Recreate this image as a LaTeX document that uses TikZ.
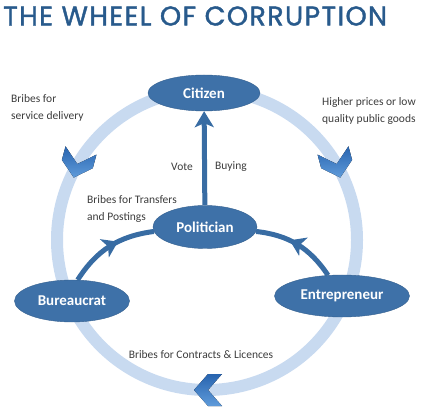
\documentclass[tikz,border=0pt]{standalone}
\usepackage{fontspec}
\setmainfont{Carlito}
\newfontfamily\titlefont[LetterSpace=5,FakeBold=1.5]{Poppins}
\usetikzlibrary{arrows.meta}
\usetikzlibrary{calc}
\usetikzlibrary{shapes.geometric}
\usetikzlibrary{decorations.markings}
\definecolor{ringblue}{RGB}{200,218,240}
\definecolor{nodeblue}{RGB}{62,113,168}
\definecolor{spokeblue}{RGB}{56,108,163}
\definecolor{chevblue}{RGB}{40,100,175}
\definecolor{chevlight}{RGB}{95,155,218}
\definecolor{titleblue}{RGB}{40,90,140}
\definecolor{labelgray}{RGB}{60,60,60}
\tikzset{
    actor/.style={ellipse,fill=nodeblue,draw=nodeblue!85!black,text=white,
        font=\fontsize{15}{17}\selectfont\bfseries},
    spoke/.style={line width=5pt,color=spokeblue},
    tipto/.style={-{Stealth[length=16pt,width=19pt,inset=4pt]}},
    midarrow/.style={postaction={decorate,decoration={markings,
        mark=at position 0.6 with {\arrow{Stealth[length=15pt,width=20pt,inset=4pt]}}}}},
    note/.style={text=labelgray,font=\fontsize{11.5}{17}\selectfont,align=left,inner sep=0pt},
    chevron/.pic={
        \fill[left color=chevblue,right color=chevlight,shading angle=0]
            (13,0) -- (-1,16) -- (-15,16) -- (-1,0) -- (-15,-16) -- (-1,-16) -- cycle;
    },
}

\begin{document}
\begin{tikzpicture}[x=1pt,y=1pt]
\useasboundingbox (0,0) rectangle (422,412);
% title
\node[anchor=west,inner sep=0pt,text=titleblue,font=\titlefont\fontsize{27}{30}\selectfont] (title) at (3,396) {THE WHEEL OF CORRUPTION};
% the wheel
\coordinate (hub) at (207,172);
\draw[ringblue,line width=12pt] (hub) circle (150);
\pic[rotate=255] at ($(hub)+(150:150)$) {chevron};
\pic[rotate=285] at ($(hub)+(30:150)$) {chevron};
\pic[rotate=180] at ($(hub)+(270:150)$) {chevron};
% actors
\node[actor,minimum width=112,minimum height=36] (cit) at (204,319) {Citizen};
\node[actor,minimum width=104,minimum height=43] (pol) at (205,185) {Politician};
\node[actor,minimum width=115,minimum height=42] (bur) at (72,111) {Bureaucrat};
\node[actor,minimum width=135,minimum height=42] (ent) at (342,116) {Entrepreneur};
% spokes
\draw[spoke,tipto] (pol) -- (cit);
\draw[spoke,midarrow] (bur.75) to[bend left=25] (pol.185);
\draw[spoke,midarrow] (ent.124) to[bend right=25] (pol.355);
% labels
\node[note,anchor=west] (service) at (11,304) {Bribes for\\service delivery};
\node[note,anchor=west] (prices) at (322,301) {Higher prices or low\\quality public goods};
\node[note,anchor=east] (vote) at (193,245) {Vote};
\node[note,anchor=west] (buying) at (215,245) {Buying};
\node[note,anchor=west] (transfers) at (87,203) {Bribes for Transfers\\and Postings};
\node[note] (contracts) at (201,57) {Bribes for Contracts \& Licences};
\end{tikzpicture}
\end{document}
